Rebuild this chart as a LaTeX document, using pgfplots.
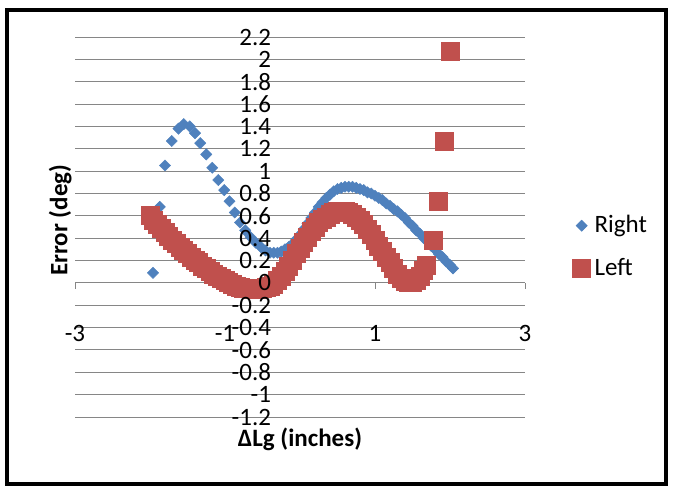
\documentclass[border=0pt]{standalone}
\usepackage{fontspec}
\setmainfont{Carlito}
\usepackage{pgfplots}
\pgfplotsset{compat=1.18}
\definecolor{xlblue}{RGB}{79,129,189}
\definecolor{xlred}{RGB}{192,80,77}
\definecolor{gridgray}{RGB}{134,134,134}
\begin{document}
\fontsize{12.5}{14}\selectfont
\begin{tikzpicture}
\useasboundingbox (0,0) rectangle (336.5pt,244.5pt);
\draw[line width=2pt] (3.5pt,2.5pt) rectangle (333pt,239.5pt);
\begin{axis}[
  at={(37.5pt,36pt)}, anchor=south west,
  scale only axis, width=225pt, height=190pt,
  xmin=-3, xmax=3, ymin=-1.2, ymax=2.2,
  axis x line=middle, axis y line=middle,
  x axis line style={-, draw=gridgray, line width=0.5pt},
  y axis line style={draw=none},
  hide obscured x ticks=false, hide obscured y ticks=false,
  xtick={-3,-1,1,3}, xticklabels={-3,-1,1,3},
  ytick={-1.2,-1,-0.8,-0.6,-0.4,-0.2,0,0.2,0.4,0.6,0.8,1,1.2,1.4,1.6,1.8,2,2.2},
  yticklabels={},
  tick align=outside,
  xtick style={draw=gridgray, line width=0.5pt},
  major tick length=3pt,
  ytick style={draw=none},
  xticklabel style={anchor=center, yshift=-22.5pt, font=\fontsize{12.5}{14}\selectfont},
  ymajorgrids, grid style={gridgray, line width=0.5pt},
  xlabel={\textbf{ΔLg (inches)}},
  xlabel style={at={(axis description cs:0.5,-0.06)}, anchor=center, font=\fontsize{12.5}{14}\selectfont},
  ylabel={\textbf{Error (deg)}},
  ylabel style={at={(axis description cs:-0.033,0.518)}, anchor=center, rotate=90, font=\fontsize{12.5}{14}\selectfont},
  legend style={draw=none, fill=none, at={(axis description cs:1.105,0.447)}, anchor=west,
    row sep=7pt, font=\fontsize{12.5}{14}\selectfont, inner sep=0pt},
  legend cell align=left,
  legend image code/.code={\draw[#1] plot coordinates {(0pt,0pt)};},
]
\addplot[only marks, mark=square*, mark size=2pt,
  mark options={rotate=45, draw=xlblue, fill=xlblue, line width=0.2pt}]
coordinates {
(-1.96,0.09) (-1.87,0.68) (-1.80,1.05) (-1.71,1.27) (-1.62,1.38) (-1.55,1.42)
(-1.47,1.40) (-1.40,1.34) (-1.33,1.25) (-1.25,1.15) (-1.17,1.03) (-1.09,0.92)
(-1.01,0.83) (-0.94,0.73) (-0.87,0.63) (-0.80,0.54) (-0.73,0.47) (-0.66,0.41)
(-0.59,0.36) (-0.52,0.32) (-0.46,0.29) (-0.40,0.27) (-0.35,0.27) (-0.30,0.27)
(-0.25,0.28) (-0.20,0.30) (-0.15,0.32) (-0.10,0.35) (-0.05,0.39) (0.00,0.43)
(0.05,0.48) (0.10,0.53) (0.15,0.58) (0.20,0.63) (0.25,0.68) (0.30,0.72)
(0.35,0.76) (0.40,0.79) (0.45,0.82) (0.50,0.84) (0.55,0.85) (0.60,0.86)
(0.65,0.86) (0.70,0.86) (0.75,0.85) (0.80,0.84) (0.85,0.83) (0.90,0.81)
(0.95,0.80) (1.00,0.78) (1.05,0.76) (1.10,0.74) (1.15,0.71) (1.20,0.69)
(1.25,0.66) (1.30,0.64) (1.35,0.61) (1.40,0.58) (1.45,0.54) (1.50,0.51)
(1.55,0.47) (1.60,0.44) (1.65,0.40) (1.70,0.37) (1.75,0.33) (1.80,0.30)
(1.85,0.26) (1.90,0.23) (1.95,0.19) (2.00,0.16) (2.04,0.13)
};
\addlegendentry{Right}
\addplot[only marks, mark=square*, mark size=4.5pt,
  mark options={draw=xlred, fill=xlred, line width=0.4pt}]
coordinates {
(-2.00,0.60) (-1.95,0.56) (-1.90,0.52) (-1.85,0.49) (-1.80,0.45) (-1.75,0.42)
(-1.70,0.38) (-1.65,0.35) (-1.60,0.32) (-1.55,0.29) (-1.50,0.26) (-1.45,0.23)
(-1.40,0.20) (-1.35,0.18) (-1.30,0.15) (-1.25,0.13) (-1.20,0.10) (-1.15,0.08)
(-1.10,0.06) (-1.05,0.04) (-1.00,0.02) (-0.95,0.00) (-0.90,-0.01) (-0.85,-0.03)
(-0.80,-0.04) (-0.75,-0.05) (-0.70,-0.05) (-0.65,-0.06) (-0.60,-0.06) (-0.55,-0.06)
(-0.50,-0.05) (-0.45,-0.04) (-0.40,-0.03) (-0.35,-0.01) (-0.30,0.02) (-0.25,0.06)
(-0.20,0.10) (-0.15,0.15) (-0.10,0.20) (-0.05,0.26) (0.00,0.31) (0.05,0.36)
(0.10,0.41) (0.15,0.46) (0.20,0.50) (0.25,0.54) (0.30,0.57) (0.35,0.59)
(0.40,0.61) (0.45,0.63) (0.50,0.64) (0.55,0.64) (0.60,0.64) (0.65,0.63)
(0.70,0.61) (0.75,0.59) (0.80,0.56) (0.85,0.52) (0.90,0.48) (0.95,0.43)
(1.00,0.38) (1.05,0.33) (1.10,0.28) (1.15,0.23) (1.20,0.18) (1.25,0.13)
(1.30,0.08) (1.35,0.04) (1.40,0.01) (1.45,0.00) (1.50,0.00) (1.55,0.02)
(1.60,0.06) (1.65,0.11) (1.69,0.16) (1.78,0.38) (1.85,0.73) (1.93,1.27)
(2.01,2.07)
};
\addlegendentry{Left}
\end{axis}
\begin{axis}[
  at={(37.5pt,36pt)}, anchor=south west,
  scale only axis, width=225pt, height=190pt,
  xmin=-3, xmax=3, ymin=-1.2, ymax=2.2,
  axis x line=none, axis y line=middle,
  y axis line style={draw=none},
  hide obscured y ticks=false,
  xtick=\empty,
  ytick={-1.2,-1,-0.8,-0.6,-0.4,-0.2,0,0.2,0.4,0.6,0.8,1,1.2,1.4,1.6,1.8,2,2.2},
  yticklabels={-1.2,-1,-0.8,-0.6,-0.4,-0.2,0,0.2,0.4,0.6,0.8,1,1.2,1.4,1.6,1.8,2,2.2},
  ytick style={draw=none},
  yticklabel style={anchor=east, xshift=-8pt, font=\fontsize{12.5}{14}\selectfont},
]
\end{axis}
\end{tikzpicture}
\end{document}
